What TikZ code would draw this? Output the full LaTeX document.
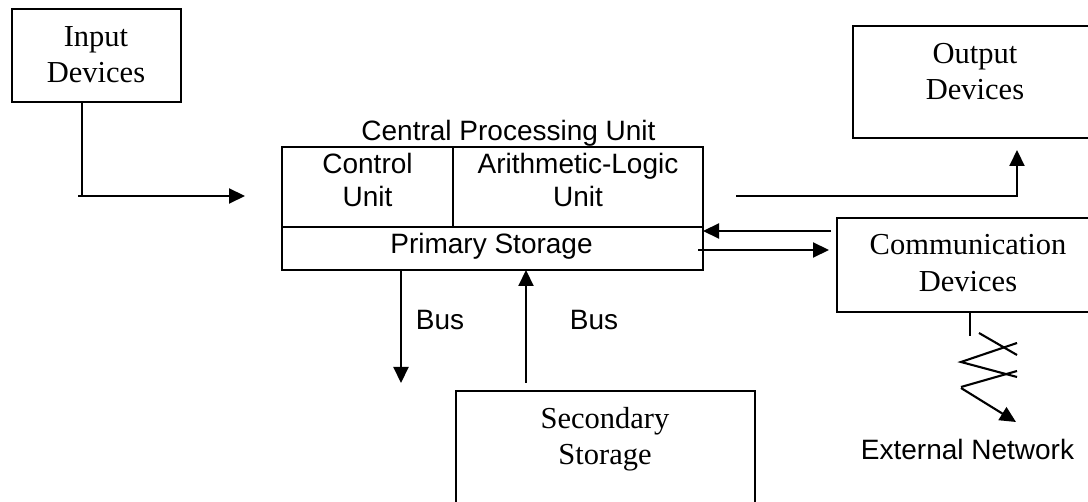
\documentclass[tikz,border=0pt]{standalone}
\usepackage{fontspec}
\setmainfont{Liberation Serif}
\setsansfont{Liberation Sans}
\usetikzlibrary{arrows.meta}
\begin{document}
\begin{tikzpicture}[x=1pt,y=-1pt,
  box/.style={draw, line width=2.6pt, inner sep=0pt, outer sep=0pt},
  conn/.style={line width=2.1pt},
  arr/.style={conn, -{Triangle[length=16pt,width=15pt]}},
  serif/.style={font=\fontsize{30.5}{36}\selectfont, inner sep=0pt, anchor=base},
  sans/.style={font=\sffamily\fontsize{28}{33}\selectfont, inner sep=0pt, anchor=base}]
\useasboundingbox (0,0) rectangle (1088,502);
\clip (0,0) rectangle (1088,502);

% boxes
\node[box, minimum width=169pt, minimum height=93pt] (inp) at (96.5,55.5) {};
\node[box, minimum width=257pt, minimum height=112pt] (out) at (981.5,82) {};
\node[box, minimum width=273pt, minimum height=94pt] (comm) at (973.5,265) {};
\node[box, minimum width=299pt, minimum height=139pt] (sec) at (605.5,460.5) {};
\node[box, minimum width=171pt, minimum height=80pt] (cu) at (367.5,187) {};
\node[box, minimum width=250pt, minimum height=80pt] (alu) at (578,187) {};
\node[box, minimum width=421pt, minimum height=43pt] (ps) at (492.5,248.5) {};

% texts
\node[serif] (t1) at (96,47) {Input};
\node[serif] (t2) at (96,83) {Devices};
\node[serif] (t3) at (975,64) {Output};
\node[serif] (t4) at (975,100) {Devices};
\node[serif] (t5) at (968,255) {Communication};
\node[serif] (t6) at (968,292) {Devices};
\node[serif] (t7) at (605,429) {Secondary};
\node[serif] (t8) at (605,465) {Storage};
\node[sans] (t9) at (508.5,141) {Central Processing Unit};
\node[sans] (t10) at (367.5,174) {Control};
\node[sans] (t11) at (367.5,207) {Unit};
\node[sans] (t12) at (578,174) {Arithmetic-Logic};
\node[sans] (t13) at (578,207) {Unit};
\node[sans] (t14) at (491.5,254) {Primary Storage};
\node[sans] (t15) at (440,330) {Bus};
\node[sans] (t16) at (594,330) {Bus};
\node[sans] (t17) at (967.5,460) {External Network};

% coordinates
\coordinate (i1) at (82,196);
\coordinate (i0) at (78,196);
\coordinate (i2) at (245,196);
\coordinate (o1) at (736,196);
\coordinate (o2) at (1017,150);
\coordinate (c1) at (831,231);
\coordinate (c2) at (698,250);
\coordinate (c3) at (829,250);
\coordinate (b1) at (401,383);
\coordinate (b2) at (526,383);
\coordinate (z0) at (970,336);
\coordinate (z1) at (979,333);
\coordinate (z2) at (1017,355);
\coordinate (z3) at (1017,343);
\coordinate (z4) at (961,362);
\coordinate (z5) at (1017,377);
\coordinate (z6) at (1017,371);
\coordinate (z7) at (961,387);
\coordinate (z8) at (961,388);
\coordinate (z9) at (1016,422);

% connectors
\draw[conn] (inp.south -| i1) -- (i1);
\draw[arr] (i0) -- (i2);
\draw[arr] (o1) -| (o2);
\draw[arr] (c1) -- (c1 -| ps.east);
\draw[arr] (c2) -- (c3);
\draw[arr] (ps.south -| b1) -- (b1);
\draw[arr] (b2) -- (ps.south -| b2);
\draw[conn] (comm.south -| z0) -- (z0);
\draw[conn] (z1) -- (z2);
\draw[conn] (z3) -- (z4) -- (z5);
\draw[conn] (z6) -- (z7);
\draw[arr] (z8) -- (z9);
\end{tikzpicture}
\end{document}
